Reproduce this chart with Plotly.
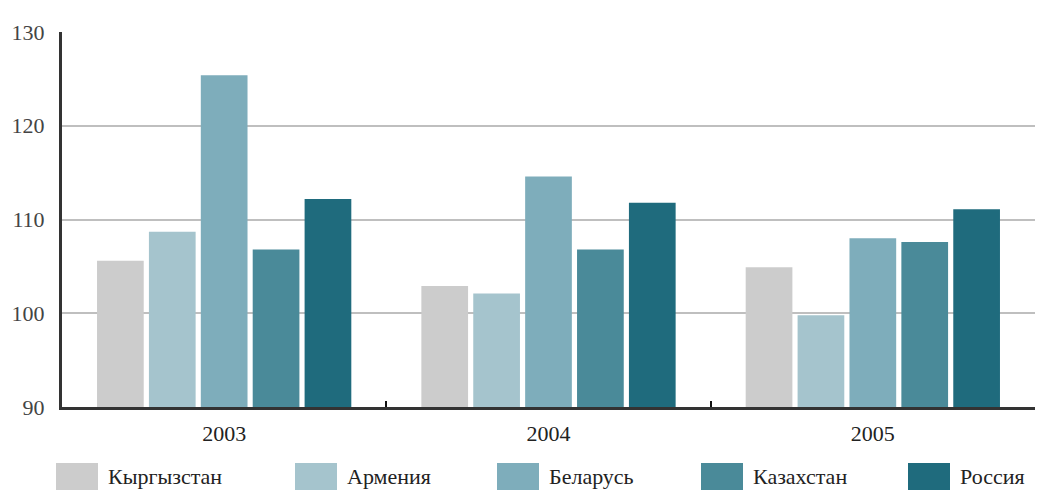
import plotly.graph_objects as go

years = ["2003", "2004", "2005"]
countries = ["Кыргызстан", "Армения", "Беларусь", "Казахстан", "Россия"]
kyrgyzstan = [105.6, 102.9, 104.9]
armenia = [108.7, 102.1, 99.8]
belarus = [125.4, 114.6, 108.0]
kazakhstan = [106.8, 106.8, 107.6]
russia = [112.2, 111.8, 111.1]
series = [kyrgyzstan, armenia, belarus, kazakhstan, russia]
colors = ["#cccccc", "#a5c4cd", "#7eadbb", "#4a8a99", "#1f6b7d"]
y_ticks = [90, 100, 110, 120, 130]

fig = go.Figure()
for name, vals, col in zip(countries, series, colors):
    fig.add_trace(go.Bar(x=years, y=vals, name=name, marker=dict(color=col, line=dict(width=0)),
                         showlegend=False))

font_family = "Liberation Serif, DejaVu Serif, serif"

L, T, W_PLOT, H_PLOT = 62, 32, 973, 375
def px(pix):
    return (pix - L) / W_PLOT
def py(pix):
    return (T + H_PLOT - pix) / H_PLOT

# custom legend (rectangles + labels)
leg_x0 = [56, 295, 497, 701, 908]
for i, (name, col) in enumerate(zip(countries, colors)):
    fig.add_shape(type="rect", xref="paper", yref="paper",
                  x0=px(leg_x0[i]), x1=px(leg_x0[i] + 42),
                  y0=py(490), y1=py(463),
                  fillcolor=col, line=dict(width=0), layer="above")
    fig.add_annotation(xref="paper", yref="paper", x=px(leg_x0[i] + 50),
                       y=py(476), text=name, showarrow=False,
                       xanchor="left", yanchor="middle",
                       font=dict(family=font_family, size=22, color="#222222"))

fig.update_layout(
    width=1039, height=491,
    margin=dict(l=L, r=1039 - L - W_PLOT, t=T, b=491 - T - H_PLOT),
    paper_bgcolor="white", plot_bgcolor="white",
    barmode="group", bargap=0.2, bargroupgap=0.1,
    font=dict(family=font_family, size=18, color="#333333"),
)
fig.update_xaxes(
    type="category", showline=True, linecolor="#333333", linewidth=3,
    ticks="inside", tickson="boundaries", ticklen=6, tickwidth=2, tickcolor="#111111",
    showgrid=False, ticklabelstandoff=5, automargin=False,
    tickfont=dict(family=font_family, size=22, color="#222222"),
)
fig.update_yaxes(
    range=[90, 130], tickvals=y_ticks, showline=True, linecolor="#333333", linewidth=3,
    showgrid=True, gridcolor="#bfbfbf", gridwidth=2, zeroline=False, ticks="",
    ticklabelstandoff=10, automargin=False,
    tickfont=dict(family=font_family, size=22, color="#444444"),
)

fig.write_html("out.html", config={"displayModeBar": False},
               post_script="document.body.style.margin='0';document.body.style.overflow='hidden';")
